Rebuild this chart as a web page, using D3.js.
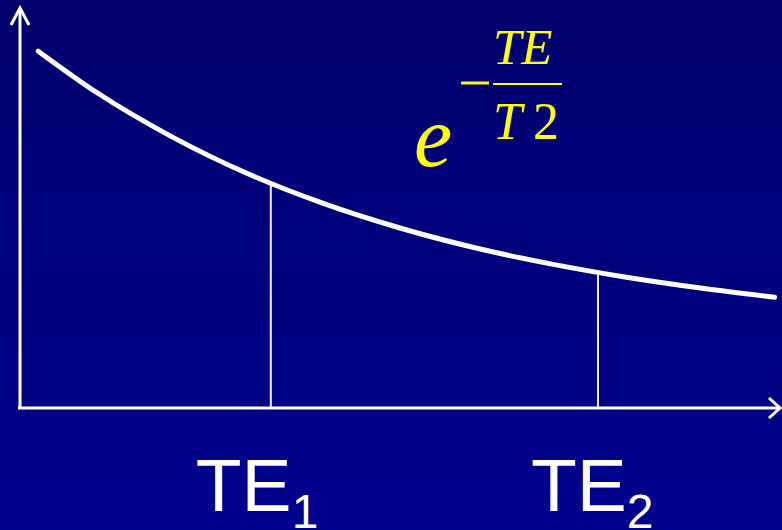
<!DOCTYPE html>
<html lang="en">
<head>
  <meta charset="utf-8">
  <title>T2 decay</title>
  <style>
    body { margin: 0; background: #000080; }
    svg { display: block; }
  </style>
</head>
<body>
  <script src="https://cdnjs.cloudflare.com/ajax/libs/d3/7.8.5/d3.min.js"></script>
  <script>
  // decay curve (time in arbitrary units, signal in %)
  const times  = [2.4, 10, 20, 30, 40, 50, 60, 70, 80, 90, 99.3];
  const signal = [90.8, 80.4, 69.0, 59.6, 52.0, 45.8, 40.7, 36.6, 33.2, 30.4, 28.2];
  // echo times marked on the axis
  const teTimes  = [33.0, 76.05];
  const teSignal = [57.3, 34.4];
  const teLabels = ["1", "2"];

  const width = 782, height = 530;

  const svg = d3.select("body")
    .append("svg")
    .attr("width", width)
    .attr("height", height);

  const grad = svg.append("defs")
    .append("linearGradient")
    .attr("id", "bg")
    .attr("x1", 0).attr("y1", 0)
    .attr("x2", 0).attr("y2", 1);
  grad.append("stop").attr("offset", "0%").attr("stop-color", "#00006e");
  grad.append("stop").attr("offset", "100%").attr("stop-color", "#00008e");

  svg.append("rect")
    .attr("width", width)
    .attr("height", height)
    .attr("fill", "url(#bg)");

  const x = d3.scaleLinear().domain([0, 100]).range([20, 780]);
  const y = d3.scaleLinear().domain([0, 100]).range([408, 15]);

  // axes with arrow heads
  const axes = svg.append("g")
    .attr("stroke", "#fff")
    .attr("stroke-width", 3)
    .attr("fill", "none");

  axes.append("line")
    .attr("x1", x(0)).attr("y1", y(0))
    .attr("x2", x(0)).attr("y2", y(100) - 7);
  axes.append("polyline")
    .attr("points", `${x(0) - 9},${y(100) + 10} ${x(0)},${y(100) - 7} ${x(0) + 9},${y(100) + 10}`);

  axes.append("line")
    .attr("x1", x(0) - 2).attr("y1", y(0))
    .attr("x2", x(100)).attr("y2", y(0));
  axes.append("polyline")
    .attr("points", `${x(100) - 11},${y(0) - 10} ${x(100)},${y(0)} ${x(100) - 11},${y(0) + 10}`);

  // echo time markers
  svg.selectAll(".te")
    .data(teTimes)
    .enter()
    .append("line")
    .attr("class", "te")
    .attr("x1", d => x(d))
    .attr("x2", d => x(d))
    .attr("y1", (d, i) => y(teSignal[i]))
    .attr("y2", y(0))
    .attr("stroke", "#f0f0f0")
    .attr("stroke-width", 2);

  // decay curve
  const pts = times.map((t, i) => [t, signal[i]]);
  svg.append("path")
    .datum(pts)
    .attr("d", d3.line()
      .x(d => x(d[0]))
      .y(d => y(d[1]))
      .curve(d3.curveMonotoneX))
    .attr("fill", "none")
    .attr("stroke", "#fff")
    .attr("stroke-width", 5)
    .attr("stroke-linecap", "round");

  // TE labels (label sits a little left of its marker)
  const labelShift = [-75, -67];
  const lab = svg.selectAll(".telab")
    .data(teTimes)
    .enter()
    .append("text")
    .attr("class", "telab")
    .attr("x", (d, i) => x(d) + labelShift[i])
    .attr("y", 511)
    .attr("fill", "#fff")
    .style("font-family", "'Liberation Sans', Arial, sans-serif")
    .style("font-size", "75px");
  lab.append("tspan").text("TE");
  lab.append("tspan")
    .attr("dy", 17)
    .style("font-size", "48px")
    .text((d, i) => teLabels[i]);

  // formula e^(-TE/T2)
  const f = svg.append("g")
    .attr("fill", "#ffff00")
    .style("font-family", "'Liberation Serif', 'Times New Roman', serif");

  f.append("text")
    .attr("x", 414)
    .attr("y", 166)
    .style("font-style", "italic")
    .style("font-size", "86px")
    .text("e");

  f.append("line")
    .attr("x1", 461).attr("x2", 489)
    .attr("y1", 83).attr("y2", 83)
    .attr("stroke", "#ffff00")
    .attr("stroke-width", 3);

  f.append("line")
    .attr("x1", 493).attr("x2", 562)
    .attr("y1", 84).attr("y2", 84)
    .attr("stroke", "#ffff00")
    .attr("stroke-width", 2);

  f.append("text")
    .attr("x", 493)
    .attr("y", 64)
    .style("font-style", "italic")
    .style("font-size", "51px")
    .text("TE");

  const den = f.append("text")
    .attr("y", 139)
    .style("font-size", "52px");
  den.append("tspan")
    .attr("x", 493)
    .style("font-style", "italic")
    .text("T");
  den.append("tspan")
    .attr("x", 533)
    .text("2");
  </script>
</body>
</html>
